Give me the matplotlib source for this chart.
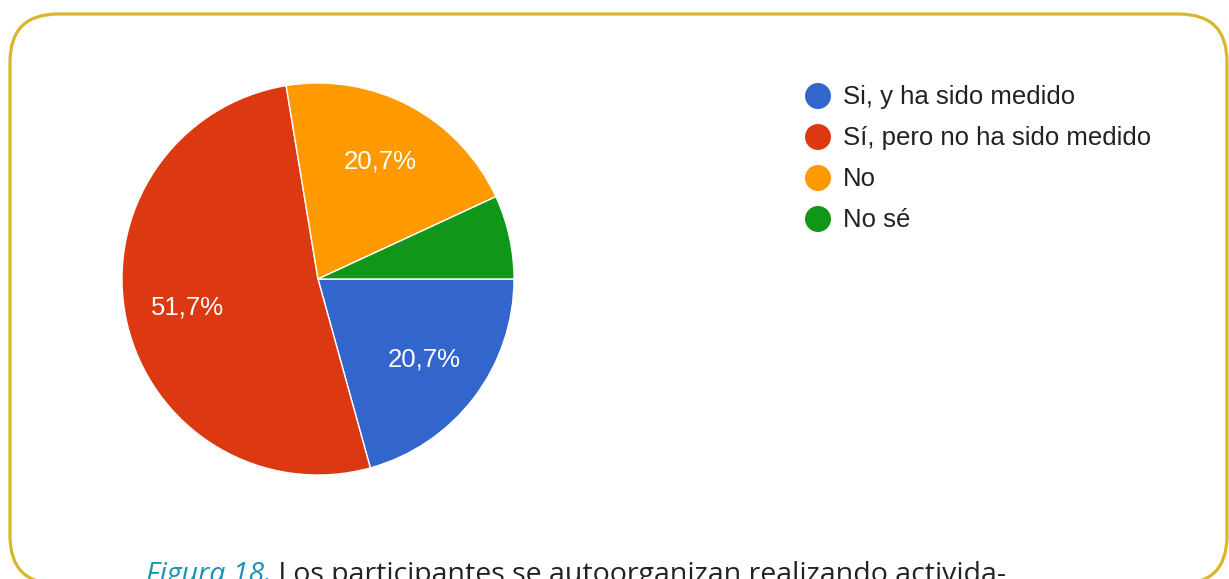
import matplotlib
matplotlib.use("Agg")
import matplotlib.pyplot as plt
from matplotlib.patches import FancyBboxPatch

# data
labels = ["Si, y ha sido medido", "Sí, pero no ha sido medido", "No", "No sé"]
values = [20.7, 51.7, 20.7, 6.9]
colors = ["#3366CC", "#DC3912", "#FF9900", "#109618"]
caption_head = "Figura 18."
caption_tail = " Los participantes se autoorganizan realizando activida-"

W, H = 1229, 579
fig = plt.figure(figsize=(W / 100, H / 100), dpi=100)
fig.patch.set_facecolor("white")

# overlay in pixel coordinates (y up) for frame, legend and caption
ov = fig.add_axes([0, 0, 1, 1])
ov.set_xlim(0, W)
ov.set_ylim(0, H)
ov.axis("off")


def py(y):
    # top-down pixel row -> overlay y
    return H - y


frame = FancyBboxPatch((10, py(584)), 1217, 570,
                       boxstyle="round,pad=0,rounding_size=48",
                       fill=False, edgecolor="#D9B72B", linewidth=2.3)
ov.add_patch(frame)

# pie: center (318, 279) px, radius 197 px
cx, cy, r = 318, 279, 197
ax = fig.add_axes([(cx - r) / W, (H - cy - r) / H, 2 * r / W, 2 * r / H])


def fmt(p):
    if p < 10:
        return ""
    return f"{p:.1f}%".replace(".", ",")


wedges, texts, autotexts = ax.pie(
    values, colors=colors, startangle=0, counterclock=False,
    autopct=fmt, pctdistance=0.68,
    wedgeprops=dict(edgecolor="white", linewidth=1.0),
    textprops=dict(color="white", fontsize=18.5, family="Liberation Sans"))
ax.set_xlim(-1.005, 1.005)
ax.set_ylim(-1.005, 1.005)
ax.set_aspect("equal")
ax.axis("off")

# legend
for i, (lab, col) in enumerate(zip(labels, colors)):
    y = 96 + i * 41
    ov.scatter([818], [py(y)], s=350, color=col, edgecolors="none", zorder=3)
    ov.text(843, py(y + 1), lab, fontsize=18.5, family="Liberation Sans",
            color="#222222", va="center", ha="left")

# caption (cut off by the bottom edge, as in the source)
t1 = ov.text(146, py(582), caption_head, fontsize=20.5, family="Open Sans",
             style="italic", color="#1A93B6", va="baseline", ha="left")
fig.canvas.draw()
bb = t1.get_window_extent()
ov.text(146 + bb.width, py(582), caption_tail, fontsize=20.5,
        family="Open Sans", color="#222222", va="baseline", ha="left")

fig.savefig("out.png", dpi=100, facecolor="white")
